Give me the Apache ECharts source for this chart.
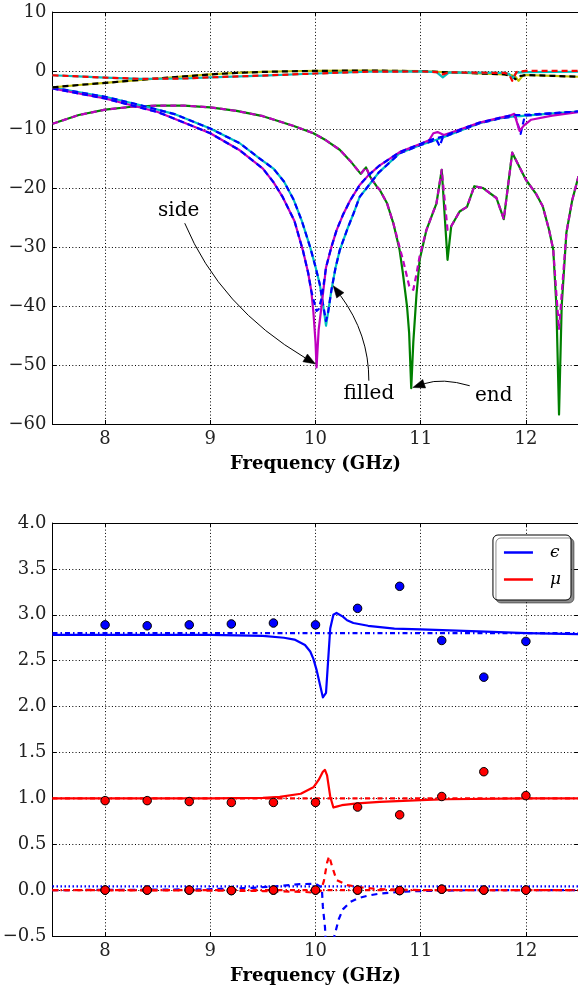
<!DOCTYPE html>
<html><head><meta charset="utf-8">
<script src="https://cdn.jsdelivr.net/npm/echarts@6/dist/echarts.min.js"></script>
<style>html,body{margin:0;padding:0;background:#fff}#c{width:578px;height:985px}</style>
</head><body><div id="c"></div>
<script>
// ---------------- data ----------------
const xTicks = [8, 9, 10, 11, 12];

// top panel: transmission group A (cyan solid / red dashed)
const tA_freq = [7.5, 7.75, 8.0, 8.33, 8.75, 9.0, 9.5, 10.0, 10.5, 11.0, 11.15, 11.21, 11.27, 11.5, 11.8, 11.84, 11.87, 11.91, 12.0, 12.5];
const tA_cyan = [-0.75, -0.95, -1.15, -1.35, -1.3, -1.1, -0.8, -0.45, -0.15, -0.1, -0.2, -1.1, -0.25, -0.3, -0.35, -0.5, -1.3, -0.3, -0.2, -0.15];
const tA_red  = [-0.75, -0.95, -1.15, -1.35, -1.3, -1.1, -0.8, -0.45, -0.15, -0.1, -0.2, -0.6, -0.25, -0.3, -0.35, -0.6, -1.7, -0.2, 0.0, 0.0];
// transmission group B (yellow solid / black dashed)
const tB_freq   = [7.5, 7.75, 8.0, 8.25, 8.5, 8.75, 9.0, 9.25, 9.5, 9.75, 10.0, 10.5, 11.0, 11.2, 11.5, 11.8, 11.86, 11.9, 11.93, 11.97, 12.0, 12.25, 12.5];
const tB_yellow = [-2.8, -2.4, -2.05, -1.65, -1.3, -0.95, -0.6, -0.35, -0.18, -0.07, 0.0, 0.05, -0.05, -0.2, -0.4, -0.6, -0.7, -1.0, -1.7, -0.8, -0.7, -0.85, -1.0];
const tB_black  = [-2.8, -2.4, -2.05, -1.65, -1.3, -0.95, -0.6, -0.35, -0.18, -0.07, 0.0, 0.05, -0.05, -0.2, -0.4, -0.6, -0.9, -1.4, -0.9, -0.8, -0.7, -0.85, -1.0];
// reflection, right curve (cyan solid / blue dashed)
const rR_freq = [7.5, 8.0, 8.33, 8.67, 9.0, 9.28, 9.47, 9.6, 9.7, 9.79, 9.87, 9.95, 10.0, 10.04, 10.07, 10.1, 10.12, 10.15, 10.19, 10.23, 10.3, 10.36, 10.42, 10.5, 10.6, 10.8, 11.0, 11.15, 11.18, 11.21, 11.4, 11.56, 11.75, 11.9, 11.95, 11.99, 12.2, 12.5];
const rR_cyan = [-2.85, -4.4, -5.8, -7.4, -9.8, -12.3, -14.9, -16.6, -18.8, -21.8, -25.5, -30, -33.3, -36.2, -39.5, -43.3, -41, -37.4, -33.5, -30.5, -27, -24.3, -21.4, -19.6, -17.3, -14, -12.6, -11.7, -11.5, -11.3, -10.0, -8.9, -8.1, -7.7, -7.7, -7.6, -7.3, -6.9];
const rR_blue = [-2.85, -4.4, -5.8, -7.4, -9.8, -12.3, -14.9, -16.6, -18.8, -21.8, -25.5, -30, -33.3, -36.2, -39.5, -42.5, -41, -37.4, -33.5, -30.5, -27, -24.3, -21.4, -19.6, -17.3, -14, -12.6, -11.7, -12.8, -11.3, -10.0, -8.9, -8.1, -7.7, -10.7, -7.6, -7.3, -6.9];
// reflection, left curve (magenta solid / blue dashed)
const rL_freq = [7.5, 8.0, 8.5, 9.0, 9.28, 9.38, 9.5, 9.6, 9.69, 9.8, 9.88, 9.93, 9.96, 9.98, 10.0, 10.01, 10.03, 10.06, 10.1, 10.15, 10.2, 10.26, 10.33, 10.42, 10.5, 10.6, 10.8, 11.0, 11.08, 11.12, 11.16, 11.22, 11.4, 11.56, 11.75, 11.85, 11.89, 11.94, 11.98, 12.05, 12.25, 12.5];
const rL_mag  = [-3.0, -4.7, -7.0, -10.6, -13.5, -14.9, -16.6, -18.9, -21.5, -25.5, -30.5, -34.3, -37.4, -41, -46, -50.4, -44, -39.6, -33.4, -30, -27.1, -24.5, -22, -19.4, -17.8, -16.2, -13.8, -12.4, -11.8, -10.6, -10.4, -10.9, -9.8, -8.8, -8.0, -7.6, -7.3, -10.2, -9.3, -8.3, -7.6, -7.0];
const rL_blue = [-3.0, -4.7, -7.0, -10.6, -13.5, -14.9, -16.6, -18.9, -21.5, -25.5, -30.5, -34.3, -37.4, -38.8, -40.2, -40.8, -40.5, -38.5, -33.4, -30, -27.1, -24.5, -22, -19.4, -17.8, -16.2, -13.8, -12.4, -11.8, -11.6, -11.4, -11.1, -9.8, -8.8, -8.0, -7.6, -7.5, -7.5, -7.5, -7.4, -7.2, -6.9];
// third curve (green solid / magenta dashed)
const g_freq = [7.5, 7.75, 8.0, 8.25, 8.5, 8.75, 9.0, 9.25, 9.5, 9.66, 9.8, 9.98, 10.1, 10.23, 10.33, 10.43, 10.48, 10.52, 10.58, 10.61, 10.68, 10.74, 10.8, 10.83, 10.87, 10.89, 10.91, 10.93, 10.96, 10.99, 11.055, 11.15, 11.2, 11.255, 11.29, 11.37, 11.44, 11.51, 11.59, 11.72, 11.79, 11.87, 12.0, 12.1, 12.16, 12.22, 12.26, 12.29, 12.315, 12.34, 12.385, 12.44, 12.5];
const g_green = [-9.0, -7.5, -6.6, -6.1, -5.9, -5.9, -6.2, -6.8, -7.7, -8.6, -9.4, -10.6, -11.8, -13.4, -15.3, -17.5, -16.4, -18.0, -19.6, -20.2, -22.5, -25.9, -30.5, -34.3, -40, -44.5, -53.9, -46, -38, -32.1, -27, -22.5, -16.8, -32.1, -26.4, -23.9, -23.1, -19.6, -19.9, -21.6, -25.2, -13.9, -18.5, -21, -23, -27, -30.4, -40, -58.4, -40, -27.5, -22, -17.9];
const g_magd  = [-9.0, -7.5, -6.6, -6.1, -5.9, -5.9, -6.2, -6.8, -7.7, -8.6, -9.4, -10.6, -11.8, -13.4, -15.3, -17.5, -16.4, -18.0, -19.6, -20.2, -22.5, -25.9, -30, -32, -35, -36.5, -37, -37.2, -34.5, -31.5, -27, -22.5, -16.8, -27, -26.4, -23.9, -23.1, -19.6, -19.9, -21.6, -25.2, -13.9, -18.5, -21, -23, -27, -30.4, -38, -44, -38, -27.5, -22, -17.9];

// bottom panel
const eps_freq = [7.5, 8.0, 8.5, 9.0, 9.5, 9.7, 9.8, 9.9, 9.95, 9.98, 10.01, 10.04, 10.07, 10.085, 10.1, 10.12, 10.14, 10.17, 10.2, 10.26, 10.3, 10.36, 10.5, 10.75, 11.0, 11.55, 12.0, 12.5];
const eps_re   = [2.78, 2.78, 2.78, 2.78, 2.77, 2.75, 2.73, 2.67, 2.60, 2.52, 2.40, 2.25, 2.10, 2.08, 2.15, 2.50, 2.85, 3.00, 3.02, 2.98, 2.94, 2.91, 2.88, 2.85, 2.84, 2.82, 2.80, 2.79];
const eps_im_freq = [7.5, 8.5, 9.0, 9.4, 9.66, 9.85, 10.0, 10.06, 10.07, 10.09, 10.11, 10.15, 10.18, 10.22, 10.26, 10.33, 10.4, 10.5, 10.6, 10.8, 11.0, 11.5, 12.5];
const eps_im   = [0.0, 0.005, 0.01, 0.025, 0.044, 0.065, 0.07, 0.03, -0.18, -0.4, -0.9, -1.0, -0.5, -0.32, -0.21, -0.13, -0.09, -0.06, -0.04, -0.02, -0.01, 0.0, 0.0];
const mu_freq  = [7.5, 8.0, 9.0, 9.5, 9.66, 9.86, 9.98, 10.03, 10.07, 10.09, 10.11, 10.14, 10.17, 10.2, 10.25, 10.4, 10.61, 11.0, 11.25, 12.0, 12.5];
const mu_re    = [1.0, 1.0, 1.0, 1.005, 1.016, 1.05, 1.12, 1.2, 1.29, 1.31, 1.25, 1.02, 0.90, 0.91, 0.925, 0.945, 0.962, 0.98, 0.99, 1.0, 1.0];
const mu_im_freq = [7.5, 9.0, 9.5, 9.9, 10.0, 10.05, 10.08, 10.11, 10.13, 10.16, 10.2, 10.3, 10.43, 10.6, 11.0, 12.5];
const mu_im    = [0.0, -0.005, -0.01, -0.02, -0.03, -0.01, 0.1, 0.3, 0.37, 0.25, 0.11, 0.055, 0.03, 0.01, 0.0, 0.0];
const epsConst = 2.80, epsImConst = 0.04, muConst = 1.0, muImConst = 0.0;
const dot_freq = [8.0, 8.4, 8.8, 9.2, 9.6, 10.0, 10.4, 10.8, 11.2, 11.6, 12.0];
const eps_dots = [2.89, 2.88, 2.89, 2.90, 2.91, 2.89, 3.07, 3.31, 2.72, 2.32, 2.71];
const mu_dots  = [0.975, 0.975, 0.965, 0.955, 0.955, 0.955, 0.905, 0.82, 1.02, 1.29, 1.03];
const epsIm_dots = [0.0, 0.0, 0.0, -0.005, 0.0, 0.0, 0.0, -0.005, 0.01, 0.0, 0.0];
const muIm_dots  = [0.0, 0.0, 0.0, -0.005, 0.0, 0.0, 0.0, -0.005, 0.01, 0.0, 0.0];

// annotations
const annotText   = ['side', 'filled', 'end'];
const annotTip    = [[10.0, -49.8], [10.168, -36.5], [10.925, -53.8]];
const annotTextAt = [[8.70, -23.85], [10.507, -54.85], [11.694, -55.2]];
const annotStartOff = [[6, 12], [0, -13], [-24, -10]];
const annotBend   = [[-30, 14], [18, 1], [1, -9]];

// ---------------- chart ----------------
const FONT = 'DejaVu Serif';
const pairs = (xs, ys) => xs.map((x, i) => [x, ys[i]]);
const flat = (v) => [[7.5, v], [12.5, v]];
const C = {b:'#0000ff', g:'#008000', r:'#ff0000', c:'#00bfbf', m:'#bf00bf', y:'#bfbf00', k:'#000000'};
const DASH = [6, 4], DASHDOT = [5, 3, 1.5, 3], DOT = [1.5, 2.5];

function line(name, data, color, type, grid, width) {
  return {
    name, type: 'line', data, xAxisIndex: grid * 2, yAxisIndex: grid * 2,
    showSymbol: false, symbol: 'none', smooth: false, silent: true,
    lineStyle: {color, width: width || 2.2, type: type || 'solid', cap: 'butt', join: 'round', opacity: 1},
    itemStyle: {color}, emphasis: {disabled: true}
  };
}
function dots(name, xs, ys, color) {
  return {
    name, type: 'scatter', data: pairs(xs, ys), xAxisIndex: 2, yAxisIndex: 2,
    symbol: 'circle', symbolSize: 8.5, silent: true,
    itemStyle: {color, borderColor: '#000', borderWidth: 1, opacity: 1}, z: 5
  };
}

const minusFmt = (d) => (v) => (v < 0 ? '\u2212' : '') + (d ? Math.abs(v).toFixed(d) : String(Math.abs(v)));
const gridLine = {show: true, lineStyle: {color: '#000', width: 1, type: [1, 2.3]}};
const spine = {show: true, onZero: false, lineStyle: {color: '#000', width: 1}};
const tickIn = {show: true, inside: true, length: 4, lineStyle: {color: '#000'}};
const labelStyle = {fontFamily: FONT, fontSize: 18, color: '#222'};

function xAx(grid, pos, main) {
  return {
    type: 'value', gridIndex: grid, position: pos, min: 7.5, max: 12.5,
    axisLine: spine,
    axisTick: Object.assign({customValues: xTicks}, tickIn),
    axisLabel: Object.assign({show: main, customValues: xTicks, margin: 6, formatter: (v) => String(v)}, labelStyle),
    splitLine: main ? gridLine : {show: false},
    name: main ? 'Frequency (GHz)' : '', nameLocation: 'middle', nameGap: 31,
    nameTextStyle: {fontFamily: FONT, fontSize: 18, fontWeight: 'bold', color: '#000'}
  };
}
function yAx(grid, pos, main, min, max, interval, d) {
  return {
    type: 'value', gridIndex: grid, position: pos, min, max, interval,
    axisLine: spine, axisTick: tickIn,
    axisLabel: Object.assign({show: main, margin: 6, formatter: minusFmt(d)}, labelStyle),
    splitLine: main ? gridLine : {show: false}
  };
}

const option = {
  animation: false,
  backgroundColor: '#fff',
  textStyle: {fontFamily: FONT},
  grid: [
    {left: 52.5, top: 12, width: 526, height: 412, outerBoundsMode: 'none', containLabel: false},
    {left: 52.5, top: 523, width: 526, height: 413, outerBoundsMode: 'none', containLabel: false}
  ],
  xAxis: [xAx(0, 'bottom', true), xAx(0, 'top', false), xAx(1, 'bottom', true), xAx(1, 'top', false)],
  yAxis: [
    yAx(0, 'left', true, -60, 10, 10, 0), yAx(0, 'right', false, -60, 10, 10, 0),
    yAx(1, 'left', true, -0.5, 4.0, 0.5, 1), yAx(1, 'right', false, -0.5, 4.0, 0.5, 1)
  ],
  legend: {
    data: [{name: '\u03f5', icon: 'rect'}, {name: '\u03bc', icon: 'rect'}],
    orient: 'vertical', right: 7, top: 535, itemWidth: 29, itemHeight: 2.5, itemGap: 10,
    selectedMode: false,
    textStyle: {fontFamily: FONT, fontStyle: 'italic', fontSize: 17, color: '#000', padding: [0, 0, 0, 12]},
    backgroundColor: '#fff', borderColor: '#000', borderWidth: 1, borderRadius: 5,
    padding: [9, 10, 12, 11],
    shadowColor: 'rgba(0,0,0,0.45)', shadowOffsetX: 3, shadowOffsetY: 3, shadowBlur: 0
  },
  series: [
    line('g_green', pairs(g_freq, g_green), C.g, 'solid', 0),
    line('g_magd', pairs(g_freq, g_magd), C.m, DASH, 0),
    line('rR_cyan', pairs(rR_freq, rR_cyan), C.c, 'solid', 0),
    line('rR_blue', pairs(rR_freq, rR_blue), C.b, DASH, 0),
    line('rL_mag', pairs(rL_freq, rL_mag), C.m, 'solid', 0),
    line('rL_blue', pairs(rL_freq, rL_blue), C.b, DASH, 0),
    line('tB_yellow', pairs(tB_freq, tB_yellow), C.y, 'solid', 0),
    line('tB_black', pairs(tB_freq, tB_black), C.k, DASH, 0),
    line('tA_cyan', pairs(tA_freq, tA_cyan), C.c, 'solid', 0),
    line('tA_red', pairs(tA_freq, tA_red), C.r, DASH, 0),

    line('\u03f5', pairs(eps_freq, eps_re), C.b, 'solid', 1),
    line('epsConst', flat(epsConst), C.b, DASHDOT, 1),
    line('\u03bc', pairs(mu_freq, mu_re), C.r, 'solid', 1),
    line('muConst', flat(muConst), C.r, DASHDOT, 1),
    line('epsIm', pairs(eps_im_freq, eps_im), C.b, [6, 5], 1),
    line('epsImConst', flat(epsImConst), C.b, DOT, 1),
    line('muIm', pairs(mu_im_freq, mu_im), C.r, [6, 5], 1),
    line('muImConst', flat(muImConst), C.r, DASHDOT, 1),
    dots('epsDots', dot_freq, eps_dots, C.b),
    dots('muDots', dot_freq, mu_dots, C.r),
    dots('epsImDots', dot_freq, epsIm_dots, C.b),
    dots('muImDots', dot_freq, muIm_dots, C.r)
  ]
};

const chart = echarts.init(document.getElementById('c'), null, {renderer: 'canvas'});
chart.setOption(option);

// annotations with curved arrows (positioned from data coordinates)
const px = (p) => chart.convertToPixel({xAxisIndex: 0, yAxisIndex: 0}, p);
const graphics = [];
annotText.forEach((t, i) => {
  const tp = px(annotTextAt[i]);
  const tip = px(annotTip[i]);
  const s = [tp[0] + annotStartOff[i][0], tp[1] + annotStartOff[i][1]];
  const mid = [(s[0] + tip[0]) / 2, (s[1] + tip[1]) / 2];
  const c = [mid[0] + annotBend[i][0], mid[1] + annotBend[i][1]];
  const dx = tip[0] - c[0], dy = tip[1] - c[1];
  const L = Math.hypot(dx, dy), ux = dx / L, uy = dy / L;
  const hl = 12, hw = 4.5;
  const base = [tip[0] - ux * hl, tip[1] - uy * hl];
  graphics.push({type: 'bezierCurve', silent: true, z: 100,
    shape: {x1: s[0], y1: s[1], x2: base[0], y2: base[1], cpx1: c[0], cpy1: c[1]},
    style: {stroke: '#000', lineWidth: 1, fill: null}});
  graphics.push({type: 'polygon', silent: true, z: 100,
    shape: {points: [tip, [base[0] - uy * hw, base[1] + ux * hw], [base[0] + uy * hw, base[1] - ux * hw]]},
    style: {fill: '#000', stroke: '#000', lineWidth: 0.5}});
  graphics.push({type: 'text', silent: true, z: 100, x: tp[0], y: tp[1],
    style: {text: t, font: '20px "DejaVu Serif"', fill: '#000',
      align: 'center', verticalAlign: 'middle', textAlign: 'center', textVerticalAlign: 'middle'}});
});
chart.setOption({graphic: graphics});
</script>
</body></html>
